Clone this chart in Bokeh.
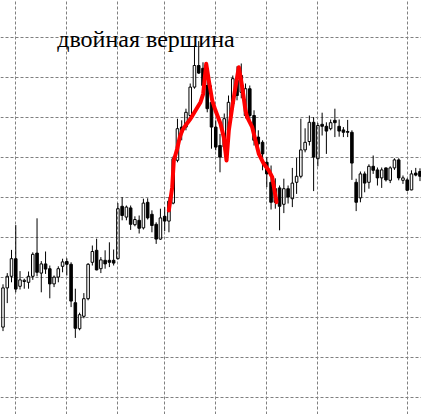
from bokeh.plotting import figure
from bokeh.models import ColumnDataSource, Range1d, FixedTicker, Label
from bokeh.embed import file_html
from bokeh.resources import INLINE

# OHLC values (one candle per bar)
opens = [27.6, 37.4, 40.3, 44.7, 37.8, 39.0, 38.8, 40.3, 46.1, 41.1,
         43.4, 42.2, 38.4, 40.1, 42.8, 44.0, 43.3, 33.7, 27.2, 30.3,
         34.7, 43.8, 46.8, 42.2, 44.3, 44.3, 44.3, 44.7, 57.8, 55.1,
         57.4, 53.2, 54.3, 52.4, 58.8, 55.8, 53.3, 49.6, 55.3, 54.1,
         58.6, 69.3, 77.6, 77.6, 80.5, 87.6, 93.0, 92.3, 88.0, 83.8,
         77.6, 73.0, 72.6, 76.8, 83.4, 89.3, 86.3, 80.5, 87.2, 80.5,
         75.1, 73.8, 68.8, 63.8, 62.2, 62.4, 58.3, 62.2, 59.7, 63.8,
         65.3, 71.9, 74.0, 78.8, 69.7, 78.3, 77.8, 77.2, 79.3, 77.8,
         76.9, 76.5, 76.3, 63.8, 59.9, 65.9, 63.8, 67.8, 66.9, 64.9,
         67.4, 64.3, 67.4, 69.4, 64.3, 64.4, 61.9, 66.1, 66.5]
highs = [38.3, 41.1, 46.9, 53.1, 41.6, 39.7, 41.5, 46.3, 54.8, 44.1,
         46.5, 43.0, 40.5, 42.8, 44.7, 44.8, 43.8, 37.2, 31.2, 36.1,
         43.6, 48.0, 49.7, 45.1, 46.8, 48.8, 47.0, 58.6, 60.1, 58.0,
         58.0, 55.3, 55.5, 59.7, 59.8, 56.8, 53.8, 57.2, 57.6, 60.1,
         70.3, 79.7, 79.3, 82.2, 88.5, 98.0, 99.1, 93.8, 89.3, 88.0,
         79.3, 75.9, 81.0, 85.5, 90.5, 92.8, 93.5, 88.5, 88.0, 81.8,
         76.8, 74.3, 70.1, 68.0, 64.8, 63.0, 64.7, 63.0, 67.4, 69.9,
         79.7, 77.3, 80.5, 80.1, 78.6, 81.2, 78.8, 79.5, 82.2, 79.5,
         77.6, 79.4, 76.8, 64.7, 66.5, 66.5, 68.3, 70.5, 67.5, 67.5,
         67.5, 67.8, 69.8, 69.8, 65.5, 64.8, 66.8, 67.4, 67.3]
lows = [26.6, 33.6, 38.8, 36.3, 37.0, 37.2, 37.2, 39.4, 40.3, 36.3,
        40.9, 34.8, 37.6, 38.8, 41.3, 40.5, 32.6, 24.9, 26.8, 29.8,
        34.3, 43.0, 41.8, 41.1, 42.2, 42.6, 43.0, 44.5, 54.3, 54.3,
        51.9, 52.8, 51.0, 52.0, 54.5, 51.3, 48.4, 49.4, 51.6, 51.3,
        58.3, 68.8, 74.3, 76.8, 80.0, 87.2, 90.9, 86.3, 81.3, 72.2,
        71.8, 66.3, 71.8, 76.0, 82.8, 84.3, 84.8, 79.8, 79.3, 73.0,
        71.8, 66.8, 62.6, 57.0, 57.2, 51.8, 56.1, 58.5, 57.6, 60.9,
        64.8, 71.3, 73.0, 61.6, 67.8, 75.5, 70.9, 76.8, 75.1, 75.2,
        75.1, 75.1, 64.4, 56.6, 58.8, 61.3, 62.2, 65.9, 63.0, 62.4,
        64.0, 63.6, 66.9, 64.3, 63.4, 61.6, 61.8, 65.3, 64.1]
closes = [37.4, 40.3, 44.7, 37.1, 39.4, 39.3, 40.3, 45.8, 41.3, 43.4,
          42.1, 38.4, 40.1, 42.2, 43.9, 43.3, 34.1, 27.3, 30.7, 34.7,
          43.3, 46.5, 41.9, 44.4, 43.4, 43.8, 43.6, 57.2, 55.5, 57.6,
          53.3, 54.5, 52.3, 58.6, 54.9, 53.0, 49.6, 54.9, 54.1, 59.1,
          69.7, 77.2, 76.3, 81.3, 87.6, 93.0, 91.1, 88.0, 82.2, 77.6,
          72.6, 70.1, 79.7, 83.8, 89.7, 85.5, 90.5, 87.2, 80.5, 74.3,
          73.4, 70.9, 65.9, 58.8, 58.8, 57.8, 62.2, 60.1, 63.6, 65.3,
          71.9, 73.8, 78.8, 70.1, 78.0, 77.8, 76.6, 78.7, 78.7, 76.6,
          76.3, 76.3, 68.6, 58.8, 65.9, 63.6, 67.8, 66.8, 64.9, 66.9,
          64.4, 67.4, 69.4, 64.9, 64.9, 61.8, 65.9, 65.6, 65.3]

# bars where a new day starts (vertical separators) and price grid levels
day_starts = [3, 15, 27, 38, 50, 62, 74, 95]
price_levels = [10, 20, 30, 40, 50, 60, 70, 80, 90, 100]

# hand-drawn double-top outline (bar position, price)
pattern_bar = [38.97, 39.77, 40.14, 40.94, 41.55, 42.12, 42.89, 44.07, 45.24, 46.42,
               47.05, 47.76, 48.37, 49.17, 49.94, 51.12, 51.89, 52.53, 53.07, 53.87,
               54.64, 55.42, 56.22, 56.99, 57.39, 58.57, 59.34, 60.12, 61.29, 62.47,
               63.27, 63.81, 64.28]
pattern_price = [56.75, 62.58, 69.25, 72.18, 75.08, 76.75, 78.0, 79.68, 81.75, 83.83,
                 85.93, 93.43, 89.25, 84.25, 81.75, 78.43, 75.08, 69.25, 76.75, 82.58,
                 87.58, 92.58, 87.58, 81.75, 80.08, 77.58, 74.25, 70.93, 68.43, 66.75,
                 65.08, 61.75, 58.83]

label_text = "двойная вершина"

n = len(opens)
bars = list(range(n))
body_top = [max(o, c) for o, c in zip(opens, closes)]
body_bot = [min(o, c) for o, c in zip(opens, closes)]
fill_alpha = [0.0 if c >= o else 1.0 for o, c in zip(opens, closes)]

src = ColumnDataSource(dict(x=bars, h=highs, l=lows, top=body_top, bot=body_bot,
                            fa=fill_alpha))

p = figure(width=421, height=414,
           x_range=Range1d(-0.588, 98.355), y_range=Range1d(5.75, 109.25),
           output_backend="svg", toolbar_location=None, min_border=0)
p.axis.visible = False
p.outline_line_color = None
p.background_fill_color = "white"
p.border_fill_color = "white"

p.xgrid.ticker = FixedTicker(ticks=day_starts)
p.ygrid.ticker = FixedTicker(ticks=price_levels)
p.grid.grid_line_color = "#808080"
p.grid.grid_line_dash = "3 2"
p.grid.grid_line_width = 1

# wicks (upper and lower, so white bodies stay hollow)
p.segment(x0="x", y0="top", x1="x", y1="h", line_color="black", line_width=1, source=src)
p.segment(x0="x", y0="bot", x1="x", y1="l", line_color="black", line_width=1, source=src)
# bodies
p.vbar(x="x", width=0.6, top="top", bottom="bot", fill_color="black",
       fill_alpha="fa", line_color="black", line_width=1, source=src)

# double top outline
p.line(pattern_bar, pattern_price, line_color="#ff0000", line_width=4,
       line_join="round", line_cap="round")

p.add_layout(Label(x=12.74, y=99.75, text=label_text, text_font="Liberation Serif",
                   text_font_size="24px", text_color="black",
                   text_baseline="alphabetic", text_align="left"))

open("out.html", "w").write(file_html(p, INLINE))
